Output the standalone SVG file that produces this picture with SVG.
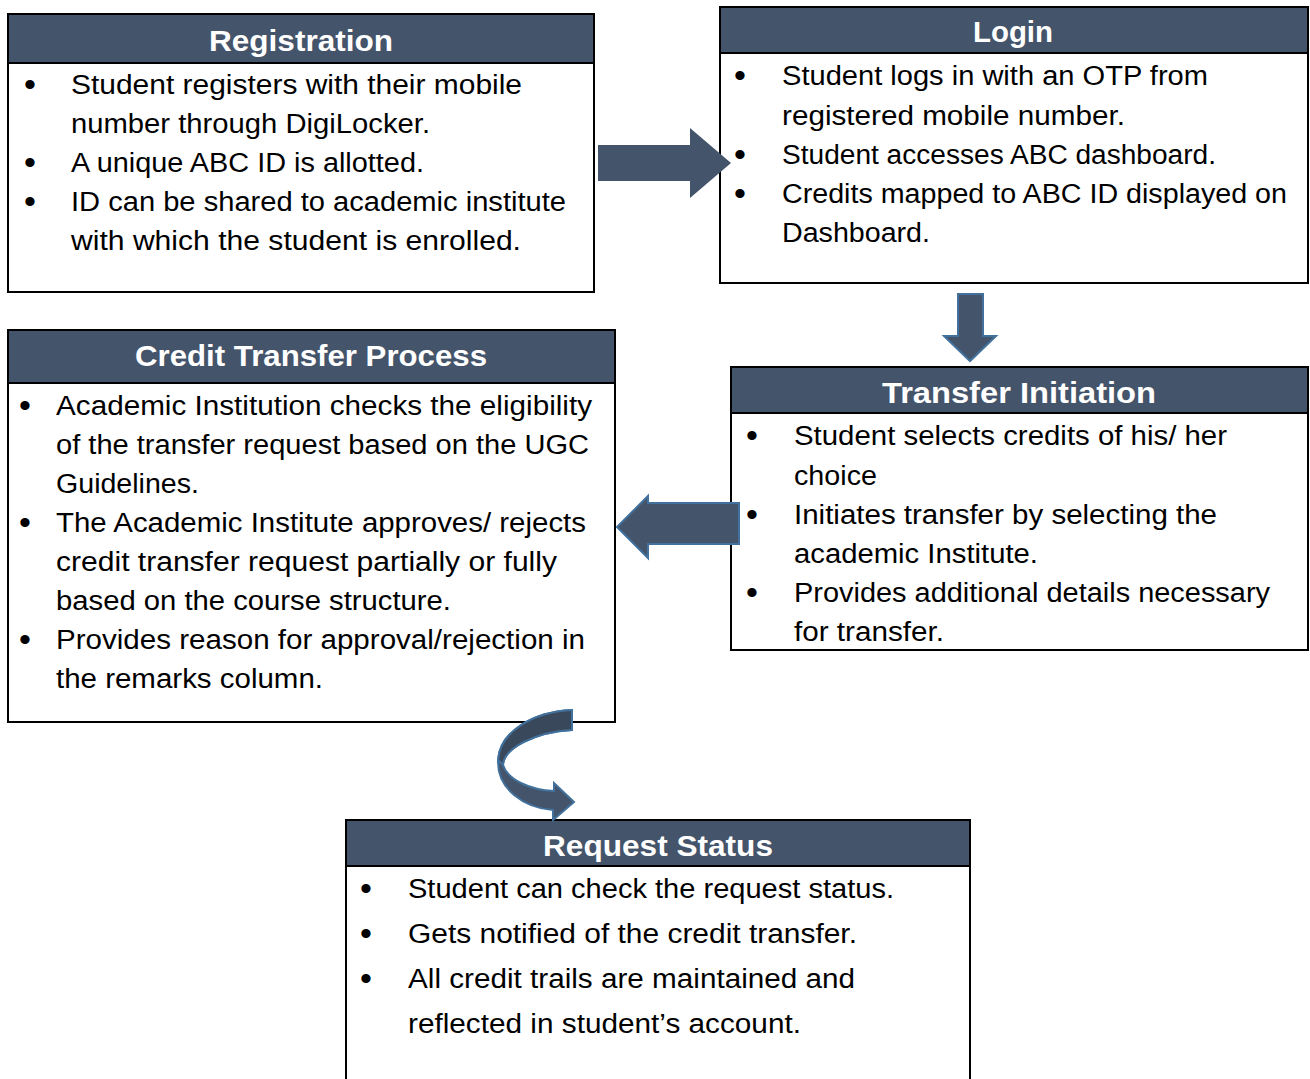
<svg xmlns="http://www.w3.org/2000/svg" width="1310" height="1079" viewBox="0 0 1310 1079">
<style>
.box{fill:#ffffff;stroke:#000000;stroke-width:2}
.hdr{fill:#44546A;stroke:#000000;stroke-width:2}
.title{font-family:"Liberation Sans",Arial,sans-serif;font-weight:bold;font-size:30px;fill:#ffffff;text-anchor:middle}
.t{font-family:"Liberation Sans",Arial,sans-serif;font-size:27px;fill:#000000}
.b{font-family:"Liberation Sans",Arial,sans-serif;font-size:34px;fill:#000000;text-anchor:middle}
.arr{fill:#44546A;stroke:#41719C;stroke-width:2;stroke-linejoin:miter}
</style>
<rect width="1310" height="1079" fill="#ffffff"/>

<g id="registration">
<rect class="box" x="8" y="14" width="586" height="278"/>
<rect class="hdr" x="8" y="14" width="586" height="49"/>
<text class="title" x="301" y="51" textLength="184" lengthAdjust="spacingAndGlyphs">Registration</text>
<text class="b" x="30" y="96">•</text>
<text class="t" x="71" y="94" textLength="451" lengthAdjust="spacingAndGlyphs">Student registers with their mobile</text>
<text class="t" x="71" y="133" textLength="359" lengthAdjust="spacingAndGlyphs">number through DigiLocker.</text>
<text class="b" x="30" y="174">•</text>
<text class="t" x="71" y="172" textLength="353" lengthAdjust="spacingAndGlyphs">A unique ABC ID is allotted.</text>
<text class="b" x="30" y="213">•</text>
<text class="t" x="71" y="211" textLength="495" lengthAdjust="spacingAndGlyphs">ID can be shared to academic institute</text>
<text class="t" x="71" y="250" textLength="450" lengthAdjust="spacingAndGlyphs">with which the student is enrolled.</text>
</g>

<g id="login">
<rect class="box" x="720" y="7" width="588" height="276"/>
<rect class="hdr" x="720" y="7" width="588" height="46"/>
<text class="title" x="1013" y="42" textLength="80" lengthAdjust="spacingAndGlyphs">Login</text>
<text class="b" x="740" y="87">•</text>
<text class="t" x="782" y="85" textLength="426" lengthAdjust="spacingAndGlyphs">Student logs in with an OTP from</text>
<text class="t" x="782" y="125" textLength="343" lengthAdjust="spacingAndGlyphs">registered mobile number.</text>
<text class="b" x="740" y="166">•</text>
<text class="t" x="782" y="164" textLength="434" lengthAdjust="spacingAndGlyphs">Student accesses ABC dashboard.</text>
<text class="b" x="740" y="205">•</text>
<text class="t" x="782" y="203" textLength="505" lengthAdjust="spacingAndGlyphs">Credits mapped to ABC ID displayed on</text>
<text class="t" x="782" y="242" textLength="148" lengthAdjust="spacingAndGlyphs">Dashboard.</text>
</g>

<g id="credit-transfer-process">
<rect class="box" x="8" y="330" width="607" height="392"/>
<rect class="hdr" x="8" y="330" width="607" height="53"/>
<text class="title" x="311" y="366" textLength="352" lengthAdjust="spacingAndGlyphs">Credit Transfer Process</text>
<text class="b" x="25" y="417">•</text>
<text class="t" x="56" y="415" textLength="536" lengthAdjust="spacingAndGlyphs">Academic Institution checks the eligibility</text>
<text class="t" x="56" y="454" textLength="533" lengthAdjust="spacingAndGlyphs">of the transfer request based on the UGC</text>
<text class="t" x="56" y="493" textLength="143" lengthAdjust="spacingAndGlyphs">Guidelines.</text>
<text class="b" x="25" y="534">•</text>
<text class="t" x="56" y="532" textLength="530" lengthAdjust="spacingAndGlyphs">The Academic Institute approves/ rejects</text>
<text class="t" x="56" y="571" textLength="501" lengthAdjust="spacingAndGlyphs">credit transfer request partially or fully</text>
<text class="t" x="56" y="610" textLength="395" lengthAdjust="spacingAndGlyphs">based on the course structure.</text>
<text class="b" x="25" y="651">•</text>
<text class="t" x="56" y="649" textLength="529" lengthAdjust="spacingAndGlyphs">Provides reason for approval/rejection in</text>
<text class="t" x="56" y="688" textLength="267" lengthAdjust="spacingAndGlyphs">the remarks column.</text>
</g>

<g id="transfer-initiation">
<rect class="box" x="731" y="367" width="577" height="283"/>
<rect class="hdr" x="731" y="367" width="577" height="46"/>
<text class="title" x="1019" y="403" textLength="274" lengthAdjust="spacingAndGlyphs">Transfer Initiation</text>
<text class="b" x="752" y="447">•</text>
<text class="t" x="794" y="445" textLength="433" lengthAdjust="spacingAndGlyphs">Student selects credits of his/ her</text>
<text class="t" x="794" y="485" textLength="83" lengthAdjust="spacingAndGlyphs">choice</text>
<text class="b" x="752" y="526">•</text>
<text class="t" x="794" y="524" textLength="423" lengthAdjust="spacingAndGlyphs">Initiates transfer by selecting the</text>
<text class="t" x="794" y="563" textLength="244" lengthAdjust="spacingAndGlyphs">academic Institute.</text>
<text class="b" x="752" y="604">•</text>
<text class="t" x="794" y="602" textLength="476" lengthAdjust="spacingAndGlyphs">Provides additional details necessary</text>
<text class="t" x="794" y="641" textLength="150" lengthAdjust="spacingAndGlyphs">for transfer.</text>
</g>

<g id="request-status">
<rect class="box" x="346" y="820" width="624" height="270"/>
<rect class="hdr" x="346" y="820" width="624" height="46"/>
<text class="title" x="658" y="856" textLength="230" lengthAdjust="spacingAndGlyphs">Request Status</text>
<text class="b" x="366" y="900">•</text>
<text class="t" x="408" y="898" textLength="486" lengthAdjust="spacingAndGlyphs">Student can check the request status.</text>
<text class="b" x="366" y="945">•</text>
<text class="t" x="408" y="943" textLength="449" lengthAdjust="spacingAndGlyphs">Gets notified of the credit transfer.</text>
<text class="b" x="366" y="990">•</text>
<text class="t" x="408" y="988" textLength="447" lengthAdjust="spacingAndGlyphs">All credit trails are maintained and</text>
<text class="t" x="408" y="1033" textLength="393" lengthAdjust="spacingAndGlyphs">reflected in student’s account.</text>
</g>

<g id="connectors">
<polygon fill="#44546A" points="598,145 690,145 690,128 731,163 690,198 690,181 598,181"/>
<polygon class="arr" points="958,294 983,294 983,336 996,336 970,361 944,336 958,336"/>
<polygon class="arr" points="739,503 648,503 648,496 617,527 648,558 648,544 739,544"/>
<path class="arr" d="M572,710 C532,712 500,732 498,760 C497,790 525,808 553,810 L553,820 L574,802 L554,783 L554,791 C530,790 508,780 503,765 C504,748 535,732 572,730 Z"/>
<path fill="#3A485C" stroke="#41719C" stroke-width="2" d="M572,710 C532,712 500,732 498,760 L503,765 C504,748 535,732 572,730 Z"/>
</g>
</svg>
